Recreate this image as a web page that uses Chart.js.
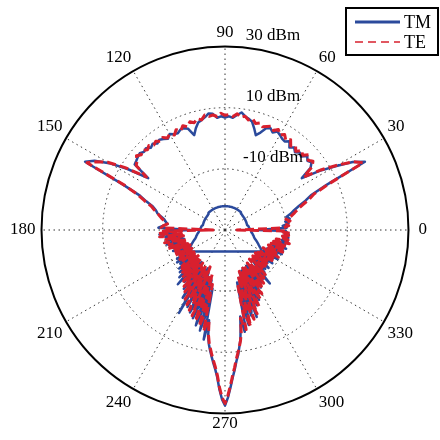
<!DOCTYPE html>
<html>
<head>
<meta charset="utf-8">
<script src="https://cdn.jsdelivr.net/npm/chart.js@4.4.1/dist/chart.umd.min.js"></script>
<style>
  html, body { margin: 0; padding: 0; background: #fff; }
  #wrap { width: 440px; height: 440px; }
</style>
</head>
<body>
<div id="wrap"><canvas id="polarChart" width="440" height="440"></canvas></div>
<script>
// angles in degrees, 0 at the right, counter-clockwise
const angles = Array.from({length: 360}, (_, i) => i);
const angleTicks = [0, 30, 60, 90, 120, 150, 180, 210, 240, 270, 300, 330];
const radialTicks = [-10, 10, 30];
const seriesNames = ['TM', 'TE'];

// upper half read every 2 degrees (0..180), lower half every degree (181..359), dBm
const tmUpper = [
  -19.2, -9.8, -11.1, -9.1, -10.1, -8.5, -9.5, -7.8, -6.5, -4.6,
  -2.0, 0.3, 6.5, 20.9, 17.3, 11.7, 6.5, 0.3, 4.6, 5.9,
  5.2, 6.2, 4.6, 5.2, 4.2, 5.2, 4.2, 5.9, 4.9, 5.2,
  5.9, 6.5, 5.5, 6.5, 5.9, 3.9, 2.6, 4.6, 6.5, 7.2,
  7.8, 8.8, 7.8, 6.8, 7.2, 6.8, 7.2, 6.8, 8.2, 8.5,
  7.5, 6.8, 6.2, 4.6, 2.6, 5.2, 5.9, 5.9, 5.2, 5.5,
  6.2, 5.2, 5.9, 6.5, 5.9, 6.8, 6.2, 7.2, 6.8, 7.5,
  7.2, 6.8, 6.5, 0.3, 7.8, 13.7, 18.3, 20.9, 6.5, 0.0,
  -2.6, -5.2, -6.5, -7.2, -8.5, -9.8, -10.4, -11.1, -9.8, -8.2,
  -18.6
];
const tmLower = [
  -11.1, -9.8, -13.0, -8.5, -13.7, -15.0, -10.4, -13.0, -15.7, -11.1,
  -13.7, -16.3, -11.7, -10.4, -15.7, -13.0, -11.1, -16.3, -12.4, -14.3,
  -16.3, -11.7, -13.7, -17.0, -12.4, -15.0, -17.0, -13.0, -14.3, -16.3,
  -11.7, -15.7, -17.0, -11.1, -15.0, -16.3, -11.7, -17.0, -14.3, -10.4,
  -15.7, -17.0, -9.8, -13.7, -16.3, -8.5, -13.0, -15.7, -6.5, -13.7,
  -16.3, -8.5, -11.7, -17.0, -6.5, -9.8, -15.7, -3.9, -9.1, -15.0,
  1.0, -10.4, -15.7, -2.0, -7.2, -16.3, -0.7, -4.6, -15.0, 0.7,
  -3.3, -13.7, 2.6, -1.3, -13.0, 3.9, 0.0, -10.4, 6.5, 0.0,
  5.2, 7.8, 9.8, 11.7, 13.7, 15.7, 18.3, 22.2, 25.4, 27.4,
  24.8, 21.5, 18.3, 15.7, 13.0, 11.1, 8.5, 6.2, 2.6, -1.3,
  3.9, 1.3, -12.4, 2.0, 0.7, -13.7, -0.7, -2.0, -15.0, 0.3,
  -3.9, -15.7, -3.3, -5.2, -16.3, -4.6, -7.2, -15.7, -6.5, -9.1,
  -16.3, -7.8, -10.4, -17.0, -9.1, -11.7, -15.7, -9.8, -13.0, -7.2,
  -14.3, -16.3, -11.1, -13.7, -17.0, -11.7, -15.0, -16.3, -11.1, -14.3,
  -17.0, -12.4, -13.7, -16.3, -11.1, -15.0, -16.3, -11.7, -13.7, -15.7,
  -10.4, -14.3, -15.7, -11.1, -12.4, -15.0, -9.8, -13.0, -14.3, -9.8,
  -11.7, -13.7, -9.1, -12.4, -11.1, -9.8, -11.7, -10.4, -9.1, -11.1,
  -9.8, -10.4, -9.1, -11.1, -9.8, -9.1, -10.4, -9.8, -10.4
];

// TM inner arch, every 2 degrees (0..358), gap from 212 to 328
const tmInner = [
  -21.7, -21.8, -22.0, -22.1, -22.2, -22.3, -22.6, -22.6, -22.6, -22.6,
  -22.6, -22.6, -22.6, -22.6, -22.6, -22.6, -22.6, -22.6, -22.6, -22.6,
  -22.6, -22.5, -22.5, -22.5, -22.2, -22.2, -22.2, -22.2, -22.2, -22.2,
  -22.2, -22.2, -22.2, -22.2, -22.2, -22.2, -22.2, -22.2, -22.2, -22.2,
  -22.2, -22.2, -22.2, -22.2, -22.2, -22.2, -22.2, -22.2, -22.2, -22.2,
  -22.2, -22.2, -22.2, -22.2, -22.2, -22.2, -22.2, -22.2, -22.2, -22.2,
  -22.2, -22.2, -22.2, -22.2, -22.2, -22.2, -22.2, -22.2, -22.5, -22.5,
  -22.6, -22.6, -22.6, -22.6, -22.6, -22.6, -22.6, -22.6, -22.6, -22.6,
  -22.6, -22.6, -22.6, -22.6, -22.6, -22.3, -22.2, -22.1, -22.0, -21.8,
  -21.7, -21.5, -21.4, -21.2, -20.9, -20.7, -20.4, -20.2, -19.9, -19.4,
  -18.9, -18.4, -17.9, -17.3, -16.6, -16.0, null, null, null, null,
  null, null, null, null, null, null, null, null, null, null,
  null, null, null, null, null, null, null, null, null, null,
  null, null, null, null, null, null, null, null, null, null,
  null, null, null, null, null, null, null, null, null, null,
  null, null, null, null, null, null, null, null, null, null,
  null, null, null, null, null, -16.0, -16.6, -17.3, -17.9, -18.4,
  -18.9, -19.4, -19.9, -20.2, -20.4, -20.7, -20.9, -21.2, -21.4, -21.5
];

const teUpper = [
  -26.1, -11.1, -9.1, -10.4, -8.5, -9.8, -7.8, -6.5, -5.2, -3.3,
  -0.7, 1.3, 7.5, 20.2, 17.6, 12.4, 7.2, 1.0, 5.2, 6.5,
  5.5, 6.8, 5.2, 6.2, 4.6, 5.9, 4.9, 6.5, 5.5, 6.8,
  5.9, 7.2, 6.2, 7.2, 6.5, 5.9, 6.8, 6.2, 7.5, 6.8,
  7.8, 7.2, 8.2, 7.2, 7.8, 7.5, 8.2, 7.2, 7.8, 7.5,
  8.2, 6.8, 7.5, 6.5, 7.2, 5.9, 6.8, 5.5, 6.5, 5.2,
  6.2, 5.5, 6.5, 5.9, 6.8, 6.2, 7.2, 6.5, 7.5, 6.8,
  7.8, 6.5, 5.9, 1.0, 8.5, 14.3, 17.6, 20.2, 5.9, 0.7,
  -2.0, -4.6, -5.9, -7.2, -8.2, -9.1, -10.4, -11.1, -9.8, -9.1,
  -26.1
];
const teLower = [
  -9.8, -13.7, -7.8, -11.7, -15.7, -8.5, -13.0, -16.3, -10.4, -12.4,
  -15.7, -9.8, -15.0, -17.0, -11.1, -13.7, -16.3, -10.4, -14.3, -17.0,
  -11.7, -15.0, -17.6, -12.4, -13.7, -17.0, -11.7, -15.7, -17.6, -13.0,
  -15.0, -17.0, -12.4, -15.7, -17.6, -13.0, -16.3, -18.3, -13.7, -11.7,
  -17.0, -11.1, -14.3, -18.3, -10.4, -13.7, -17.0, -9.1, -12.4, -17.6,
  -8.5, -11.1, -16.3, -7.2, -10.4, -17.0, -5.9, -9.1, -15.7, -3.9,
  -7.8, -16.3, -2.6, -6.5, -15.0, -1.3, -5.2, -17.0, 0.0, -3.9,
  -13.7, 1.3, -2.0, -15.0, 2.6, -0.7, -11.7, 3.9, 1.3, 0.0,
  4.6, 7.2, 9.1, 11.1, 13.0, 15.0, 17.6, 21.5, 24.8, 26.7,
  24.1, 20.9, 17.6, 15.0, 12.4, 10.4, 8.5, 6.5, 3.9, -0.7,
  2.0, 3.3, -11.1, 0.0, 2.6, -14.3, -2.0, 0.7, -15.7, -3.9,
  -0.7, -15.0, -5.2, -2.6, -16.3, -7.2, -4.6, -17.0, -8.5, -5.9,
  -15.7, -9.8, -7.2, -17.0, -11.1, -8.5, -16.3, -12.4, -9.8, -17.6,
  -13.7, -10.4, -15.7, -17.0, -11.7, -14.3, -17.6, -12.4, -15.0, -17.0,
  -11.7, -15.7, -17.6, -13.0, -14.3, -17.0, -11.7, -15.0, -16.3, -11.1,
  -13.7, -15.7, -10.4, -15.0, -16.3, -11.1, -13.0, -15.7, -9.8, -13.7,
  -15.0, -9.1, -12.4, -14.3, -9.8, -11.7, -13.7, -8.5, -11.1, -13.0,
  -9.1, -11.7, -9.8, -11.1, -9.1, -10.4, -8.5, -11.1, -9.8
];

const blue = '#2b4a9c';
const red = '#d8202e';
const serif = '"Liberation Serif", "Times New Roman", serif';

// gap between the outer ring and each angle label
const labelPad = {'0': 10, '180': 6, '270': 0};

// one value per degree, null where nothing was read
const joinHalves = (upper, lower) =>
  angles.map((a) => (a <= 180 ? (a % 2 === 0 ? upper[a / 2] : null) : lower[a - 181]));
const everyOther = (arr) => angles.map((a) => (a % 2 === 0 ? arr[a / 2] : null));

const tm = joinHalves(tmUpper, tmLower);
const te = joinHalves(teUpper, teLower);
const tmArch = everyOther(tmInner);

// radar runs clockwise from the start angle, so feed the angles in reverse
const order = angles.map((_, i) => (angles.length - i) % angles.length);
const pick = (arr) => order.map((k) => arr[k]);

const textPlugin = {
  id: 'textPlugin',
  afterDraw(chart) {
    const ctx = chart.ctx;
    const r = chart.scales.r;
    ctx.save();
    ctx.fillStyle = '#000';
    ctx.font = '17px ' + serif;
    ctx.textAlign = 'center';
    ctx.textBaseline = 'middle';
    radialTicks.forEach((v) => {
      const y = r.yCenter - r.getDistanceFromCenterForValue(v) - 11;
      ctx.fillText(v + ' dBm', r.xCenter + 48, y);
    });

    // legend box, top right
    const x0 = 346, y0 = 8, w = 92, h = 47;
    ctx.fillStyle = '#fff';
    ctx.fillRect(x0, y0, w, h);
    ctx.strokeStyle = '#000';
    ctx.lineWidth = 2;
    ctx.strokeRect(x0, y0, w, h);

    ctx.lineWidth = 3;
    ctx.strokeStyle = blue;
    ctx.beginPath();
    ctx.moveTo(x0 + 9, y0 + 14);
    ctx.lineTo(x0 + 54, y0 + 14);
    ctx.stroke();

    ctx.lineWidth = 1.5;
    ctx.strokeStyle = red;
    ctx.setLineDash([8, 5]);
    ctx.beginPath();
    ctx.moveTo(x0 + 9, y0 + 34);
    ctx.lineTo(x0 + 54, y0 + 34);
    ctx.stroke();
    ctx.setLineDash([]);

    ctx.fillStyle = '#000';
    ctx.font = '18px ' + serif;
    ctx.textAlign = 'left';
    ctx.fillText(seriesNames[0], x0 + 58, y0 + 15);
    ctx.fillText(seriesNames[1], x0 + 58, y0 + 35);
    ctx.restore();
  }
};

new Chart(document.getElementById('polarChart'), {
  type: 'radar',
  data: {
    labels: pick(angles),
    datasets: [
      {
        label: seriesNames[0],
        data: pick(tm),
        borderColor: blue,
        borderWidth: 2.5,
        spanGaps: true,
        order: 2,
      },
      {
        label: seriesNames[0] + ' inner',
        data: pick(tmArch),
        borderColor: blue,
        borderWidth: 2.5,
        spanGaps: true,
        order: 3,
      },
      {
        label: seriesNames[1],
        data: pick(te),
        borderColor: red,
        borderWidth: 3,
        borderDash: [9, 4],
        spanGaps: true,
        order: 1,
      },
    ],
  },
  options: {
    responsive: false,
    animation: false,
    layout: {padding: {left: 4, right: 6, top: 21, bottom: 1}},
    plugins: {
      legend: {display: false},
      tooltip: {enabled: false},
    },
    elements: {
      point: {radius: 0, hoverRadius: 0},
      line: {tension: 0, fill: false, borderJoinStyle: 'round'},
    },
    scales: {
      r: {
        min: -30,
        max: 30,
        startAngle: 90,
        ticks: {display: false, stepSize: 20},
        grid: {
          circular: true,
          color: (c) => (c.tick && c.tick.value === 30 ? '#000' : '#333'),
          lineWidth: (c) => (c.tick && c.tick.value === 30 ? 2 : 1),
        },
        border: {
          dash: (c) => (c.tick && c.tick.value === 30 ? [] : [1.5, 3.5]),
        },
        angleLines: {
          color: '#333',
          lineWidth: (c) => (c.index % 30 === 0 ? 1 : 0),
          borderDash: [1.5, 3.5],
        },
        pointLabels: {
          padding: (c) => (c.label in labelPad ? labelPad[c.label] : 4),
          color: '#000',
          font: {family: serif, size: 17},
          callback: (label) => (angleTicks.includes(label) ? String(label) : ''),
        },
      },
    },
  },
  plugins: [textPlugin],
});
</script>
</body>
</html>
